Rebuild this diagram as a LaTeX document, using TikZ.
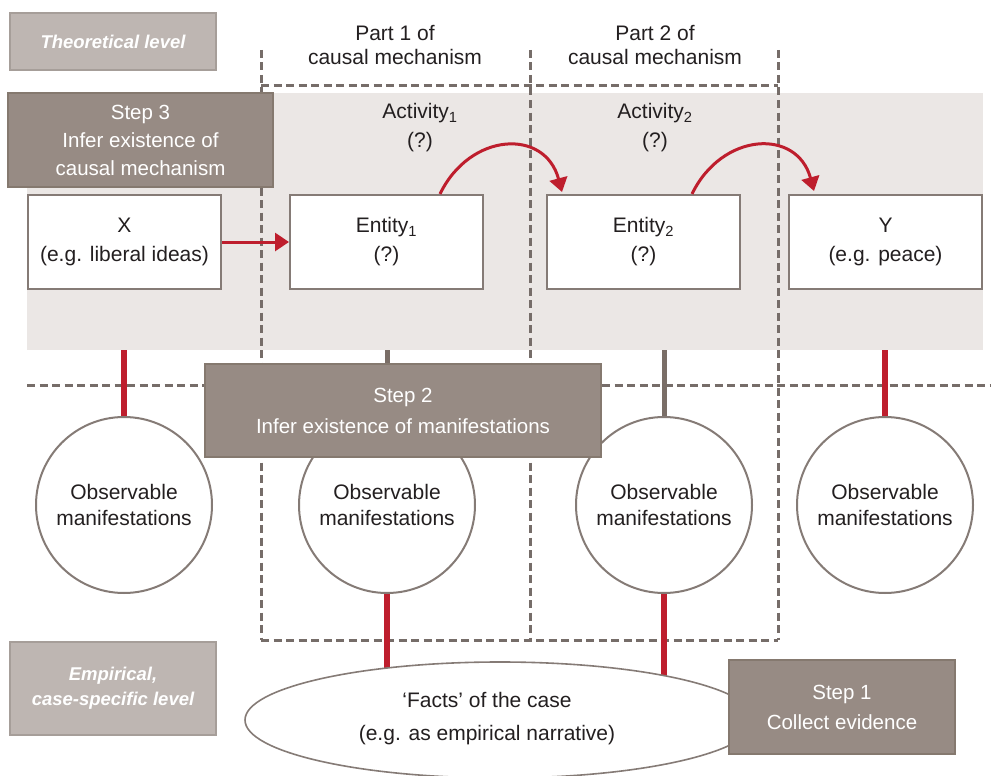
\documentclass[tikz,border=0pt]{standalone}
\usepackage{fontspec}
\setmainfont{Liberation Sans}
\usetikzlibrary{shapes.geometric,arrows.meta,calc}
\pgfdeclarelayer{back}
\pgfdeclarelayer{mid}
\pgfsetlayers{back,mid,main}
\definecolor{bandc}{HTML}{EBE7E5}
\definecolor{dashc}{HTML}{766D69}
\definecolor{boxb}{HTML}{857B76}
\definecolor{stepf}{HTML}{978B84}
\definecolor{stepb}{HTML}{85796F}
\definecolor{levf}{HTML}{BEB6B2}
\definecolor{levb}{HTML}{A69E99}
\definecolor{redc}{HTML}{BE1E2D}
\definecolor{txt}{HTML}{231F20}
\definecolor{conng}{HTML}{7A6E67}
\tikzset{
  whitebox/.style={draw=boxb, line width=2pt, fill=white, minimum width=193pt, minimum height=94pt, inner sep=0pt, align=center, font=\fontsize{21}{29}\selectfont, text=txt},
  stepbox/.style={draw=stepb, line width=2pt, fill=stepf, inner sep=0pt, align=center, font=\fontsize{20.5}{30}\selectfont, text=white},
  levbox/.style={draw=levb, line width=2pt, fill=levf, inner sep=0pt, align=center, font=\fontsize{18.5}{25}\selectfont\bfseries\itshape, text=white},
  obs/.style={circle, draw=boxb, line width=2pt, fill=white, minimum size=176pt, inner sep=0pt, align=center, font=\fontsize{21}{26}\selectfont, text=txt},
  dashln/.style={draw=dashc, line width=3pt, dash pattern=on 8pt off 4.5pt},
  redconn/.style={draw=redc, line width=6pt},
  grayconn/.style={draw=conng, line width=5pt},
  redarrow/.style={draw=redc, line width=3pt, -{Triangle[length=14pt,width=18pt]}},
  plain/.style={font=\fontsize{21}{24.5}\selectfont, text=txt, align=center, inner sep=0pt}
}
\begin{document}
\begin{tikzpicture}[x=1pt,y=-1pt]
\useasboundingbox (0,0) rectangle (991,776);
% circles
\node[obs] (c1) at (124,505) {Observable\\manifestations};
\node[obs] (c2) at (387,505) {Observable\\manifestations};
\node[obs] (c3) at (664,505) {Observable\\manifestations};
\node[obs] (c4) at (885,505) {Observable\\manifestations};
% ellipse
\node[ellipse, draw=boxb, line width=1.6pt, fill=white, minimum width=510pt, minimum height=116pt, inner sep=0pt] (facts) at (500,720) {};
\node[plain, font=\fontsize{21}{33}\selectfont] (factstext) at (487,719) {‘Facts’ of the case\\(e.g. as empirical narrative)};
% level boxes
\node[levbox, minimum width=206pt, minimum height=57pt] (theo) at (113,41.5) {Theoretical level};
\node[levbox, minimum width=206pt, minimum height=93pt] (emp) at (113,688.5) {Empirical,\\case-specific level};
% boxes
\node[whitebox] (X) at (124.5,242) {X\\(e.g. liberal ideas)};
\node[whitebox] (e1) at (386.5,242) {Entity\textsubscript{1}\\(?)};
\node[whitebox] (e2) at (643.5,242) {Entity\textsubscript{2}\\(?)};
\node[whitebox] (Y) at (885.5,242) {Y\\(e.g. peace)};
% labels top
\node[plain] (part1) at (395,45) {Part 1 of\\causal mechanism};
\node[plain] (part2) at (655,45) {Part 2 of\\causal mechanism};
\node[plain, font=\fontsize{21}{29}\selectfont] (act1) at (420,128) {Activity\textsubscript{1}\\(?)};
\node[plain, font=\fontsize{21}{29}\selectfont] (act2) at (655,128) {Activity\textsubscript{2}\\(?)};
% step boxes
\node[stepbox, font=\fontsize{20.5}{28}\selectfont, minimum width=265pt, minimum height=94pt] (s3) at (140.5,140) {Step 3\\Infer existence of\\causal mechanism};
\node[stepbox, font=\fontsize{20.5}{31}\selectfont, minimum width=396pt, minimum height=93pt] (s2) at (403,410.5) {Step 2\\Infer existence of manifestations};
\node[stepbox, minimum width=226pt, minimum height=94pt] (s1) at (842,707) {Step 1\\Collect evidence};
% band and dashed frames
\begin{pgfonlayer}{back}
\node[fill=bandc, inner sep=0pt, minimum width=956pt, minimum height=257pt, anchor=north west] (band) at (27,93) {};
\coordinate (p1t) at (261,50); \coordinate (p1b) at (261,640);
\coordinate (p2t) at (530,50); \coordinate (p2b) at (530,640);
\coordinate (p3t) at (778,50); \coordinate (p3b) at (778,640);
\coordinate (hl) at (27,385); \coordinate (hr) at (991,385);
\draw[dashln] (p1t) -- (p1b);
\draw[dashln] (p2t) -- (p2b);
\draw[dashln] (p3t) -- (p3b);
\draw[dashln] (p1t |- 0,86) -- (p3t |- 0,86);
\draw[dashln] (p1b) -- (p3b);
\draw[dashln] (hl) -- (hr);
\end{pgfonlayer}
% connectors
\begin{pgfonlayer}{mid}
\draw[redconn] (c1 |- band.south) -- (c1.center);
\draw[grayconn] (c2 |- band.south) -- (c2.center);
\draw[grayconn] (c3 |- band.south) -- (c3.center);
\draw[redconn] (c4 |- band.south) -- (c4.center);
\draw[redconn] (c2.center) -- (c2 |- facts.center);
\draw[redconn] (c3.center) -- (c3 |- facts.center);
\end{pgfonlayer}
% arrows
\draw[redarrow] (X.east) -- (e1.west);
\draw[redarrow] ($(e1.north)+(53.5,0)$) .. controls (470,132) and (545,128) .. ($(e2.north west)+(16,-2)$);
\draw[redarrow] ($(e2.north)+(48.5,0)$) .. controls (722,132) and (797,128) .. ($(Y.north west)+(26,-3)$);
\end{tikzpicture}
\end{document}
